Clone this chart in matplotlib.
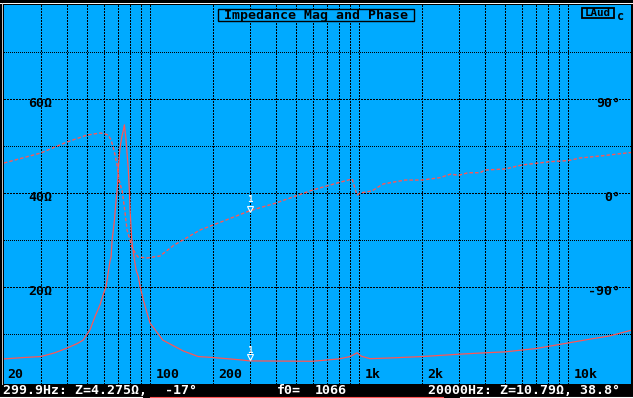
import matplotlib
matplotlib.use("Agg")
from matplotlib import pyplot as plt
from matplotlib.lines import Line2D
from matplotlib.patches import Rectangle

# impedance magnitude (ohm)
mag_freq = [20, 25, 30, 35, 40, 45, 47.8, 51.6, 54.5, 57.6, 60, 61.6, 63, 64.4, 65.1,
            65.8, 67.3, 68.8, 69.9, 70.5, 71.9, 73.2, 74.5, 75.3, 76.5, 77.4, 78.7,
            79.6, 80.2, 81.7, 83.2, 85.7, 87.9, 89.6, 92.9, 96.4, 100, 105.7, 115,
            144, 170, 200, 270, 300, 600, 800, 906, 978, 1022, 1129, 1406, 2000,
            3000, 4000, 5000, 7000, 9160, 12700, 15850, 20000]
mag_ohm = [4.7, 5.0, 5.2, 6.0, 7.0, 8.0, 8.7, 10.9, 13.7, 16.2, 18.7, 20.1, 23.0, 25.7,
           26.4, 30.0, 33.6, 38.5, 41.7, 45.5, 49.8, 51.9, 53.4, 54.5, 51.9, 49.1,
           44.9, 40.6, 36.4, 30.0, 27.2, 23.6, 22.2, 20.1, 17.2, 14.7, 12.3, 10.9,
           8.7, 6.4, 5.2, 5.0, 4.5, 4.275, 4.2, 4.7, 5.2, 6.0, 5.3, 4.75, 4.9, 5.2,
           5.7, 6.0, 6.2, 6.9, 7.8, 8.9, 9.6, 10.79]

# impedance phase (degrees)
ph_freq = [20, 30, 40, 50, 57.6, 60, 63, 65.1, 66.5, 68, 69.5, 71.1, 72.6, 73.4, 75.1,
           77.6, 82, 84.8, 87.6, 96.8, 103.4, 111.6, 130, 173.5, 220, 300, 400, 600,
           700, 800, 926, 978, 1011, 1154, 1302, 1660, 2000, 2440, 2730, 3000, 3320,
           3790, 4000, 5000, 6000, 8200, 10000, 11400, 14200, 20000]
ph_deg = [28.7, 38.3, 48.8, 55.5, 57.4, 57, 55.5, 50.7, 44, 36.4, 26.8, 12.4, 5.7, 2.9,
          -11.5, -35.4, -51.7, -57.4, -61.3, -62.2, -61.3, -60.3, -50, -35.4, -27.5,
          -17, -9.6, 2.9, 6.7, 10, 13.4, -1.9, 0, 2, 8.6, 12.4, 12.4, 14.7, 18, 17,
          19.4, 19.4, 22, 23, 26.8, 30, 31, 33.5, 35.4, 38.8]

grid_freqs = [30, 40, 50, 60, 70, 80, 90, 100, 200, 300, 400, 500, 600, 700, 800, 900,
              1000, 2000, 3000, 4000, 5000, 6000, 7000, 8000, 9000, 10000]
freq_labels = ["20", "100", "200", "1k", "2k", "10k"]
freq_label_pos = [20, 100, 200, 1000, 2000, 10000]
mag_grid = [10, 20, 30, 40, 50, 60, 70]
mag_labels = ["60Ω", "40Ω", "20Ω"]
mag_label_vals = [60, 40, 20]
ph_labels = ["90°", "0°", "-90°"]
ph_label_vals = [90, 0, -90]

BLUE = "#00AAFF"
RED = "#FF5555"
W, H = 633, 398
plt.rcParams["lines.scale_dashes"] = False
mono = dict(family="DejaVu Sans Mono", weight="bold")

fig = plt.figure(figsize=(W / 100, H / 100), dpi=100, facecolor="black")
ax = fig.add_axes([4 / W, 14 / H, 627 / W, 379 / H])
ax.set_facecolor(BLUE)
ax.set_xscale("log")
ax.set_xlim(20, 20000)
ax.set_ylim(-3 / 4.7, 80)
for s in ax.spines.values():
    s.set_visible(False)
ax.set_xticks([])
ax.set_yticks([])
ax.minorticks_off()

dash = (0, (1.44, 1.44))
dots = (0, (0.72, 1.44))
for f in grid_freqs:
    ax.axvline(f, color="black", lw=0.75, ls=dash, antialiased=False, zorder=1)
for m in mag_grid:
    ax.axhline(m, color="black", lw=0.75, ls=dash if m in mag_label_vals else dots,
               antialiased=False, zorder=1)

# phase scale: 90 deg per 94 px, 0 deg at the 40 ohm line
ph = ax.twinx()
ph.set_yticks([])
for s in ph.spines.values():
    s.set_visible(False)

ax.plot(mag_freq, mag_ohm, color=RED, lw=0.9, zorder=3)
ph.plot(ph_freq, ph_deg, color=RED, lw=1.0, ls=(0, (2.5, 1.5)), zorder=3)
ph.set_ylim(-180 - 3 * 90 / 94, 180)

# axis labels inside the plot
for lab, f in zip(freq_labels, freq_label_pos):
    ax.text(f * 1.06 if f > 20 else 20.8, 1.3, lab, color="black", fontsize=9.5,
            ha="left", va="center", **mono)
for lab, v in zip(mag_labels, mag_label_vals):
    ax.text(26, v - 0.95, lab, color="black", fontsize=9.5, ha="left", va="center", **mono)
for lab, v in zip(ph_labels, ph_label_vals):
    ph.text(17800, v - 4.4, lab, color="black", fontsize=9.5, ha="right", va="center",
            **mono)

# cursor markers at 300 Hz
ph.text(300, -6.7, "1", color="white", fontsize=6.5, ha="center", va="center", **mono)
ph.plot([300], [-15], marker="v", ms=4.5, mfc=BLUE, mec="white", mew=0.8, zorder=4)
ax.text(300, 6.5, "1", color="white", fontsize=6.5, ha="center", va="center", **mono)
ax.plot([300], [5.2], marker="v", ms=4.5, mfc=BLUE, mec="white", mew=0.8, zorder=4)

# title box and logo
fig.add_artist(Rectangle((217.5 / W, 1 - 21 / H), 196 / W, 12 / H,
                         transform=fig.transFigure, fc=BLUE, ec="black", lw=1.0))
fig.text(316 / W, 1 - 15 / H, "Impedance Mag and Phase", color="black", fontsize=9.5,
         ha="center", va="center", **mono)
fig.add_artist(Rectangle((581.5 / W, 1 - 17.5 / H), 32 / W, 10 / H,
                         transform=fig.transFigure, fc=BLUE, ec="black", lw=1.3))
fig.text(597.5 / W, 1 - 12.5 / H, "LAud", color="black", fontsize=7.8, ha="center",
         va="center", **mono)
fig.text(620.5 / W, 1 - 16.5 / H, "c", color="black", fontsize=8.5, ha="center",
         va="center", **mono)

# frame lines
fig.add_artist(Line2D([0, 1], [1 - 3.3 / H] * 2, color="white", lw=0.7))
fig.add_artist(Line2D([1.5 / W] * 2, [14 / H, 1 - 3.3 / H], color="#cccccc", lw=0.7))

# status bar
y_status = 1 - 390.5 / H
fig.text(3 / W, y_status, "299.9Hz: Z=4.275Ω,", color="white", fontsize=9.5,
         ha="left", va="center", **mono)
fig.text(165 / W, y_status, "-17°", color="white", fontsize=9.5, ha="left",
         va="center", **mono)
fig.text(277 / W, y_status, "f0=", color="white", fontsize=9.5, ha="left",
         va="center", **mono)
fig.text(315 / W, y_status, "1066", color="white", fontsize=9.5, ha="left",
         va="center", **mono)
fig.text(428 / W, y_status, "20000Hz: Z=10.79Ω, 38.8°", color="white", fontsize=9.5,
         ha="left", va="center", **mono)
y_ul = 1 - 397 / H
fig.add_artist(Line2D([0, 142 / W], [y_ul] * 2, color="white", lw=0.8))
fig.add_artist(Line2D([150 / W, 443 / W], [y_ul] * 2, color=RED, lw=0.8))
fig.add_artist(Line2D([460 / W, 1], [y_ul] * 2, color="white", lw=0.8))

fig.savefig("out.png", dpi=100, facecolor="black")
